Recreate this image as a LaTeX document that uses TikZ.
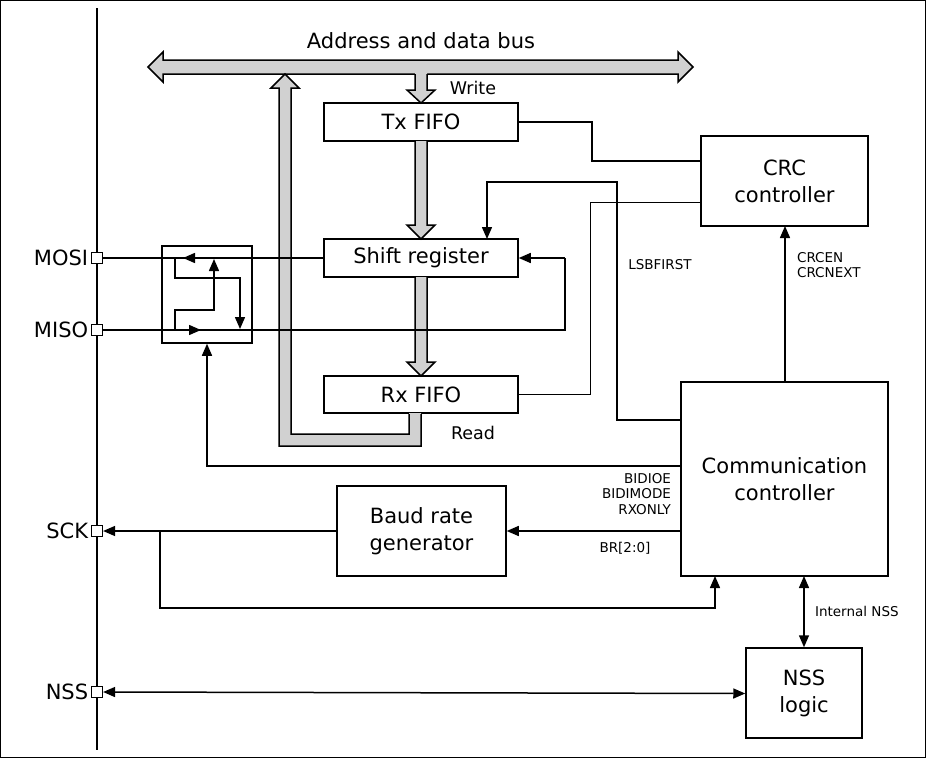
\documentclass[tikz,border=0pt]{standalone}
\usepackage{fontspec}
\setmainfont{DejaVu Sans}
\usetikzlibrary{arrows.meta}
\begin{document}
\begin{tikzpicture}[x=1pt,y=-1pt,line width=1.5pt,
  box/.style={draw,line width=1.5pt,inner sep=0},
  big/.style={font=\fontsize{21}{27}\selectfont},
  mid/.style={font=\fontsize{17.5}{20}\selectfont},
  sm/.style={font=\fontsize{13.5}{15.5}\selectfont},
  arr/.style={-{Triangle[length=12,width=10]}},
  darr/.style={{Triangle[length=12,width=10]}-{Triangle[length=12,width=10]}},
  fat/.style={fill=black!18,draw,line width=1.5pt,line join=miter},
  pin/.style={draw,fill=white,minimum size=11pt,inner sep=0,line width=1.2pt}]
\useasboundingbox (0,0) rectangle (927,758);
\draw[line width=1pt] (0.5,0.5) rectangle (925,757);
\draw (97,8) -- (97,750);
% blocks
\node[box,big,minimum width=194,minimum height=38] (tx) at (421,122) {Tx FIFO};
\node[box,big,minimum width=194,minimum height=38] (sr) at (421,258) {Shift register};
\node[box,big,minimum width=194,minimum height=37] (rx) at (421,394.5) {Rx FIFO};
\node[box,big,minimum width=167,minimum height=90,align=center] (crc) at (784.5,181) {CRC\\controller};
\node[box,big,minimum width=207,minimum height=194,align=center] (cc) at (784.5,479) {Communication\\controller};
\node[box,big,minimum width=169,minimum height=90,align=center] (br) at (421.5,531) {Baud rate\\generator};
\node[box,big,minimum width=116,minimum height=90,align=center] (nss) at (804,693) {NSS\\logic};
\node[box,minimum width=90,minimum height=97] (mux) at (207,294.5) {};
% pins
\node[pin] (mosi) at (97,258) {};
\node[pin] (miso) at (97,330) {};
\node[pin] (sck) at (97,531) {};
\node[pin] (nsp) at (97,692) {};
\node[big,anchor=east,inner sep=2pt] at (mosi.west) {MOSI};
\node[big,anchor=east,inner sep=2pt] at (miso.west) {MISO};
\node[big,anchor=east,inner sep=2pt] at (sck.west) {SCK};
\node[big,anchor=east,inner sep=2pt] at (nsp.west) {NSS};
% bus
\node[big] (bus) at (421,41) {Address and data bus};
\draw[fat] (148,67) -- (163,52) -- (163,60) -- (678,60) -- (678,52) -- (693,67) -- (678,82) -- (678,74) -- (163,74) -- (163,82) -- cycle;
% write arrow
\fill[black!18] (415,72) -- (415,90) -- (407,90) -- (421,103) -- (435,90) -- (427,90) -- (427,72) -- cycle;
\draw[line join=miter] (415,74) -- (415,90) -- (407,90) -- (421,103) -- (435,90) -- (427,90) -- (427,74);
\node[mid] at (473,88) {Write};
% read path
\fill[black!18] (421,413) -- (421,446) -- (279,446) -- (279,88) -- (271,88) -- (285,74) -- (299,88) -- (291,88) -- (291,434) -- (409,434) -- (409,413) -- cycle;
\draw[line join=miter] (421,414) -- (421,446) -- (279,446) -- (279,88) -- (271,88) -- (285,74) -- (299,88) -- (291,88) -- (291,434) -- (409,434) -- (409,414);
\node[mid] at (473,433) {Read};
% tx -> sr, sr -> rx
\draw[fat] (415,141) -- (415,225) -- (407,225) -- (421,239) -- (435,225) -- (427,225) -- (427,141);
\draw[fat] (415,277) -- (415,362) -- (407,362) -- (421,376) -- (435,362) -- (427,362) -- (427,277);
% CRC links
\draw (tx.east) -- (592,122) -- (592,161) -- (crc.west |- 0,161);
\draw (crc.west |- 0,202.5) -- (590.5,202.5) -- (590.5,394.5) -- (rx.east);
\draw[arr] (cc.west |- 0,420) -- (617,420) -- (617,182) -- (487,182) -- (487,239);
\node[sm] at (660,265) {LSBFIRST};
% MOSI / MISO
\draw (sr.west) -- (mosi.east);
\draw[arr] (222,258) -- (183,258);
\draw (miso.east) -- (565,330) -- (565,258);
\draw[arr] (565,258) -- (sr.east);
\draw[arr] (180,330) -- (201,330);
\draw[arr] (175,258) -- (175,278) -- (240,278) -- (240,329);
\draw[arr] (175,330) -- (175,310) -- (214,310) -- (214,259);
% comm -> mux
\draw[arr] (cc.west |- 0,466) -- (207,466) -- (mux.south);
\node[sm,align=right,anchor=north east] at (675,469) {BIDIOE\\BIDIMODE\\RXONLY};
% baud
\draw[arr] (cc.west |- 0,531) -- (br.east);
\node[sm] at (625,548) {BR[2:0]};
\draw[arr] (br.west) -- (sck.east);
\draw[arr] (160,531) -- (160,608) -- (715,608) -- (715,576);
% crc enable
\draw[arr] (785,382) -- (785,226);
\node[sm,align=left,anchor=north west] at (793,248) {CRCEN\\CRCNEXT};
% nss
\draw[darr] (804,576) -- (nss.north);
\node[sm,anchor=west] at (811,611) {Internal NSS};
\draw[darr] (nsp.east) -- ([yshift=-0.5pt]nss.west);
\end{tikzpicture}
\end{document}
